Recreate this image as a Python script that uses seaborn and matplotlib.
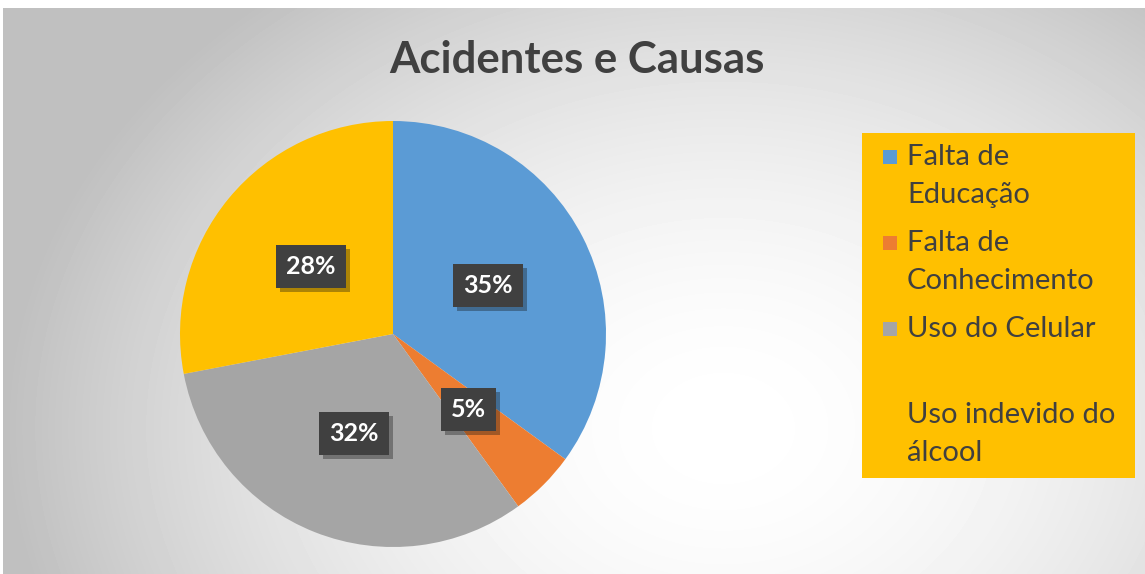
import numpy as np
import seaborn as sns
import matplotlib.pyplot as plt
import matplotlib.patheffects as pe
from matplotlib.patches import Rectangle

categories = ['Falta de Educação', 'Falta de Conhecimento', 'Uso do Celular', 'Uso indevido do álcool']
legend_text = ['Falta de\nEducação', 'Falta de\nConhecimento', 'Uso do Celular', '\nUso indevido do\nálcool']
shares = [35, 5, 32, 28]
colors = sns.color_palette(['#5B9BD5', '#ED7D31', '#A5A5A5', '#FFC000'])

sns.set_style('white')
plt.rcParams['font.family'] = ['Lato', 'DejaVu Sans']

W, H = 1145, 574
fig = plt.figure(figsize=(W / 100, H / 100), dpi=100, facecolor='white')

# radial grey background
bg = fig.add_axes([3 / W, 0, 1 - 3 / W, 1 - 8 / H])
yy, xx = np.mgrid[0:H - 8, 0:W - 3]
d = np.sqrt(((xx - 720) / 720) ** 2 + ((yy - 420) / 560) ** 2)
g = 1 - 0.25 * np.clip(d, 0, 1) ** 1.8
bg.imshow(g, cmap='gray', vmin=0, vmax=1, aspect='auto', interpolation='bilinear')
bg.axis('off')

# pie
ax = fig.add_axes([180 / W, (574 - 547) / H, 426 / W, 426 / H])
wedges, texts, autotexts = ax.pie(
    shares, colors=colors, startangle=90, counterclock=False,
    autopct='%1.0f%%', pctdistance=0.5, wedgeprops=dict(linewidth=0),
    textprops=dict(color='white', fontsize=18, fontweight='bold'))
ax.set_xlim(-1, 1)
ax.set_ylim(-1, 1)
for at in autotexts:
    at.set_bbox(dict(boxstyle='square,pad=0.4', fc='#404040', ec='none'))
    at.get_bbox_patch().set_path_effects(
        [pe.withSimplePatchShadow(offset=(3, -3), alpha=0.35), pe.Normal()])

fig.text(577 / W, 1 - 60 / H, 'Acidentes e Causas', ha='center', va='center',
         fontsize=31.5, fontweight='bold', color='#404040')

# legend box
fig.add_artist(Rectangle((862 / W, 1 - 478 / H), 273 / W, 345 / H,
                         transform=fig.transFigure, fc='#FFC000', ec='none'))
y = 157
for lab, c in zip(legend_text, colors):
    fig.add_artist(Rectangle((883 / W, 1 - (y + 7) / H), 14 / W, 14 / H,
                             transform=fig.transFigure, fc=c, ec='none'))
    for ln in lab.split('\n'):
        fig.text(907 / W, 1 - y / H, ln, ha='left', va='center', fontsize=21, color='#404040')
        y += 38
    y += 10

fig.savefig('out.png', dpi=100)
